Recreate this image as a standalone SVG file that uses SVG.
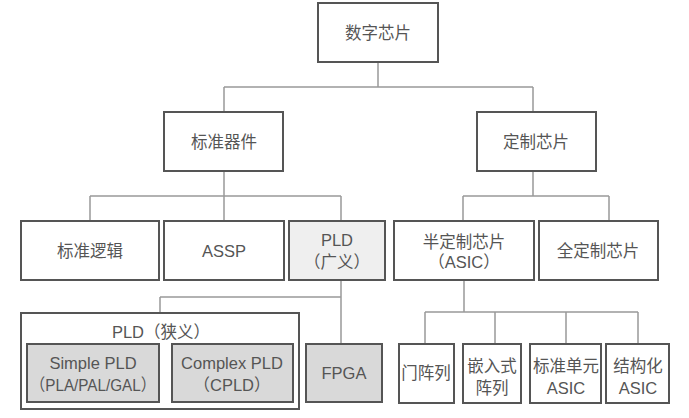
<svg xmlns="http://www.w3.org/2000/svg" width="689" height="418" viewBox="0 0 689 418">
<style>
.b{fill:#fff;stroke:#555;stroke-width:2}
.l{fill:#efefef;stroke:#555;stroke-width:2}
.g{fill:#d9d9d9;stroke:#555;stroke-width:2}
.c{fill:none;stroke:#999;stroke-width:1.5}
text{font-family:"Liberation Sans","Noto Sans CJK SC",sans-serif;font-size:16.5px;fill:#555;text-anchor:middle}
</style>
<rect width="689" height="418" fill="#fff"/>
<g id="connectors">
<path class="c" d="M378 62V87M224 87H533M224 87V112M533 87V112"/>
<path class="c" d="M224 171V196M90 196H341M90 196V221M224 196V221M341 196V221"/>
<path class="c" d="M533 171V196M463 196H609M463 196V221M609 196V221"/>
<path class="c" d="M341 280V344M160 297H341M160 297V313"/>
<path class="c" d="M464 280V312M425 312H638M425 312V344M495 312V344M566 312V344M638 312V344"/>
</g>
<g id="n-root"><rect class="b" x="318" y="3" width="120" height="59"/><text x="378" y="39">数字芯片</text></g>
<g id="n-std"><rect class="b" x="164" y="112" width="119" height="59"/><text x="224" y="148">标准器件</text></g>
<g id="n-custom"><rect class="b" x="477" y="112" width="119" height="59"/><text x="536" y="148">定制芯片</text></g>
<g id="n-logic"><rect class="b" x="21" y="221" width="138" height="59"/><text x="90" y="257">标准逻辑</text></g>
<g id="n-assp"><rect class="b" x="164" y="221" width="120" height="59"/><text x="224" y="257">ASSP</text></g>
<g id="n-pld"><rect class="l" x="289" y="221" width="96" height="59"/><text x="337" y="246">PLD</text><text x="337" y="268">（广义）</text></g>
<g id="n-semi"><rect class="b" x="394" y="221" width="140" height="59"/><text x="464" y="248">半定制芯片</text><text x="464" y="268">（ASIC）</text></g>
<g id="n-full"><rect class="b" x="539" y="221" width="119" height="59"/><text x="598" y="257">全定制芯片</text></g>
<g id="n-pldn"><rect class="b" x="21" y="313" width="278" height="96"/><text x="161" y="338">PLD（狭义）</text></g>
<g id="n-spld"><rect class="g" x="27" y="344" width="132" height="58"/><text x="93" y="369">Simple PLD</text><text x="93" y="391" textLength="126" lengthAdjust="spacingAndGlyphs">（PLA/PAL/GAL）</text></g>
<g id="n-cpld"><rect class="g" x="172" y="344" width="121" height="58"/><text x="232" y="369">Complex PLD</text><text x="232" y="391">（CPLD）</text></g>
<g id="n-fpga"><rect class="g" x="306" y="344" width="76" height="58"/><text x="344" y="379">FPGA</text></g>
<g id="n-gate"><rect class="b" x="399" y="344" width="55" height="59"/><text x="426" y="379">门阵列</text></g>
<g id="n-emb"><rect class="b" x="463" y="344" width="58" height="59"/><text x="492" y="372">嵌入式</text><text x="492" y="394">阵列</text></g>
<g id="n-cell"><rect class="b" x="530" y="344" width="71" height="59"/><text x="566" y="372">标准单元</text><text x="566" y="394">ASIC</text></g>
<g id="n-struct"><rect class="b" x="606" y="344" width="63" height="59"/><text x="638" y="372">结构化</text><text x="638" y="394">ASIC</text></g>
</svg>
